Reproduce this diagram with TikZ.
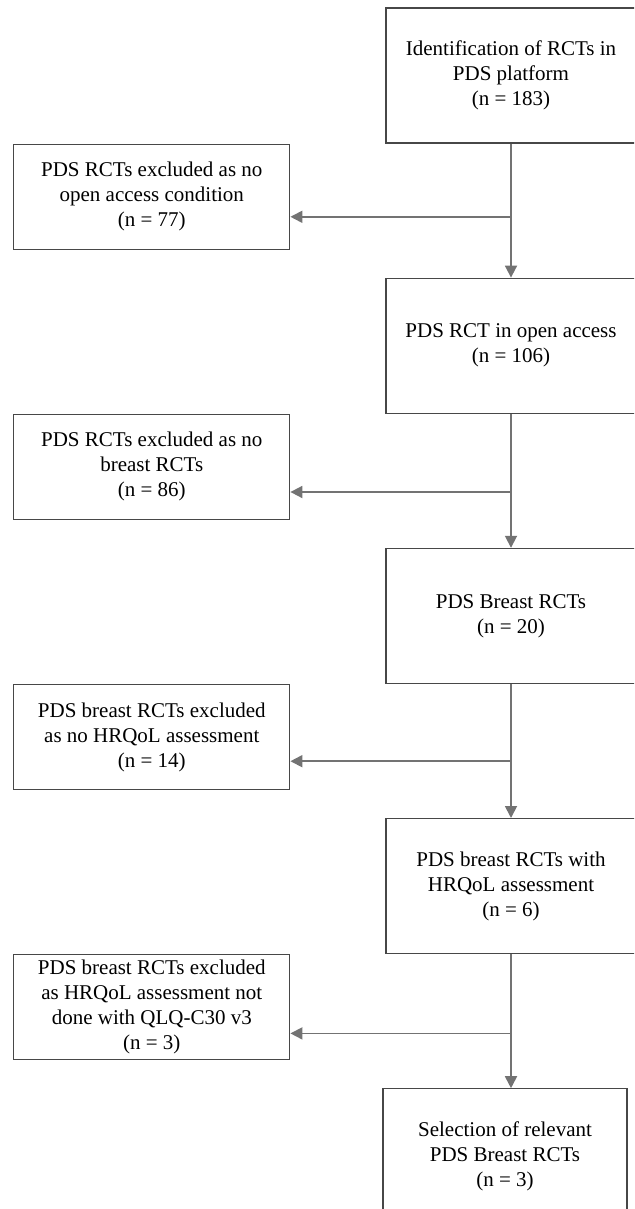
\documentclass[tikz,border=0pt]{standalone}
\usepackage{fontspec}
\setmainfont{Liberation Serif}
\usetikzlibrary{arrows.meta,positioning,calc}

\begin{document}
\begin{tikzpicture}[
    x=1pt, y=1pt,
    box/.style={rectangle, draw=black!72, line width=1.2pt, align=center,
                font=\fontsize{21}{25}\selectfont, inner sep=0pt},
    stage/.style={box, minimum width=250pt, minimum height=135pt},
    excl/.style={box, minimum width=276pt, minimum height=105pt},
    arrow/.style={-{Triangle[length=12pt,width=12pt]}, draw=black!55, line width=1.8pt}
]
\useasboundingbox (0,0) rectangle (634,-1209);
\clip (0,0) rectangle (634,-1209);

% Main stream (right)
\node[stage] (ident) at (511,-75.5) {Identification of RCTs in\\PDS platform\\(n = 183)};
\node[stage, below=134pt of ident] (openacc) {PDS RCT in open access\\(n = 106)};
\node[stage, below=134pt of openacc] (breast) {PDS Breast RCTs\\(n = 20)};
\node[stage, below=134pt of breast] (hrqol) {PDS breast RCTs with\\HRQoL assessment\\(n = 6)};
\node[stage, below=134pt of hrqol, xshift=-6pt, minimum width=244pt] (select) {Selection of relevant\\PDS Breast RCTs\\(n = 3)};

% Exclusions (left)
\node[excl, below left=0pt and 95pt of ident.south west] (exopen) {PDS RCTs excluded as no\\open access condition\\(n = 77)};
\node[excl, below left=0pt and 95pt of openacc.south west] (exbreast) {PDS RCTs excluded as no\\breast RCTs\\(n = 86)};
\node[excl, below left=0pt and 95pt of breast.south west] (exhrqol) {PDS breast RCTs excluded\\as no HRQoL assessment\\(n = 14)};
\node[excl, below left=0pt and 95pt of hrqol.south west] (exqlq) {PDS breast RCTs excluded\\as HRQoL assessment not\\done with QLQ-C30 v3\\(n = 3)};

% Branch points
\coordinate (j1) at ($(exopen.south east)+(0,33)$);
\coordinate (j2) at ($(exbreast.south east)+(0,28)$);
\coordinate (j3) at ($(exhrqol.south east)+(0,29)$);
\coordinate (j4) at ($(exqlq.south east)+(0,27)$);

% Arrows - main stream
\draw[arrow] (ident) -- (openacc);
\draw[arrow] (openacc) -- (breast);
\draw[arrow] (breast) -- (hrqol);
\draw[arrow] (hrqol.south) -- (hrqol.south |- select.north);

% Arrows - exclusions
\draw[arrow] (j1 -| ident.south) -- (exopen.east |- j1);
\draw[arrow] (j2 -| openacc.south) -- (exbreast.east |- j2);
\draw[arrow] (j3 -| breast.south) -- (exhrqol.east |- j3);
\draw[arrow] (j4 -| hrqol.south) -- (exqlq.east |- j4);

\end{tikzpicture}
\end{document}
